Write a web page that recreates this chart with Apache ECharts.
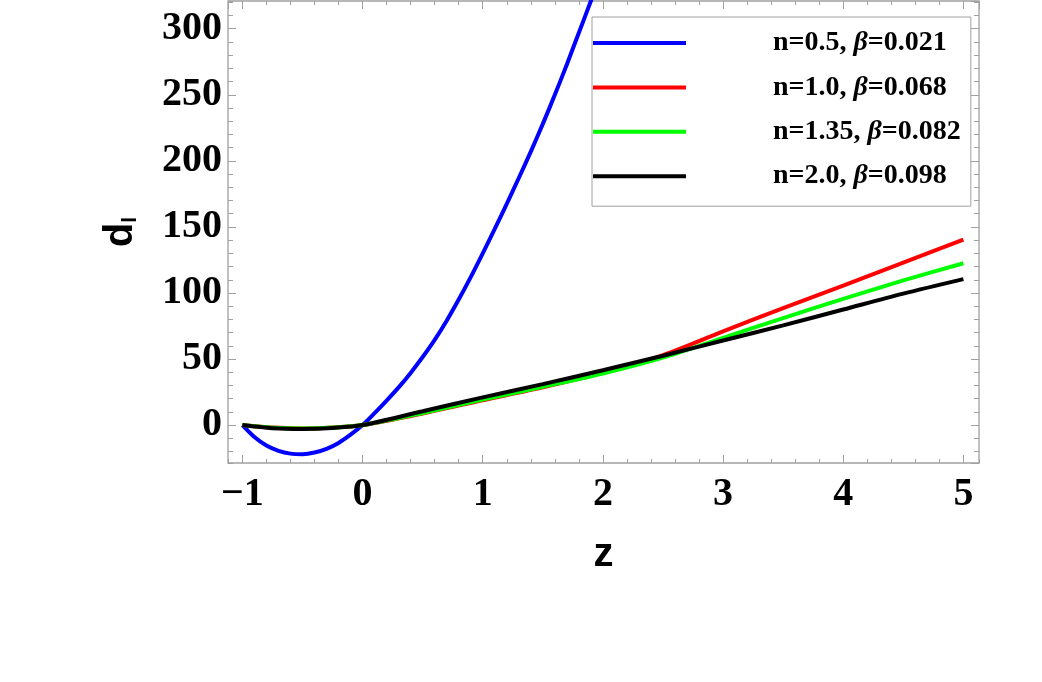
<!DOCTYPE html>
<html>
<head>
<meta charset="utf-8">
<script src="https://cdn.jsdelivr.net/npm/echarts@6/dist/echarts.min.js"></script>
<style>
  html, body { margin: 0; padding: 0; background: #fff; }
  #chart { width: 1042px; height: 682px; }
</style>
</head>
<body>
<div id="chart"></div>
<script>
  // n=0.5 curve (runs past the top of the frame)
  const zBlue = [-1, -0.9, -0.8, -0.7, -0.6, -0.5, -0.4, -0.3, -0.2, -0.1, 0,
    0.1, 0.2, 0.3, 0.4, 0.5, 0.6, 0.7, 0.8, 0.9, 1.0,
    1.1, 1.2, 1.3, 1.4, 1.5, 1.6, 1.7, 1.8, 1.9, 2.0]
  const dBlue = [0, -9, -15.5, -19.5, -21.6, -22, -20.8, -18, -13.5, -7.3, 0,
    9, 18.5, 28.5, 39.5, 51.5, 64.5, 79, 95, 112, 130,
    148.5, 167.5, 187, 207, 228, 250, 273, 297, 321, 346]

  // the other three curves
  const zOther = [-1, -0.75, -0.5, -0.25, 0, 0.5, 1, 1.5, 2, 2.5, 3, 3.5, 4, 4.5, 5]
  const dRed = [0, -1.9, -2.5, -1.8, 0, 8.8, 18.8, 28.6, 39.5, 53, 71, 88.5, 105.5, 123, 140.3]
  const dGreen = [0, -2.0, -2.6, -1.9, 0, 9.2, 19.3, 29, 39, 51, 66, 81, 95.5, 109.5, 122.5]
  const dBlack = [0, -2.4, -3.0, -2.2, 0, 10.5, 21, 31, 41.5, 52.5, 64, 75.5, 87.5, 99.5, 110.5]

  const seriesNames = ['n=0.5, β=0.021', 'n=1.0, β=0.068', 'n=1.35, β=0.082', 'n=2.0, β=0.098']
  const seriesColors = ['#0000ff', '#ff0000', '#00ff00', '#000000']

  const zRange = [-1.12, 5.13]
  const dRange = [-28.7, 321]

  const gray = '#a0a0a0'
  const serif = 'Liberation Serif'
  const sans = 'Liberation Sans'

  function zip(xs, ys) {
    return xs.map((x, i) => [x, ys[i]])
  }

  // axis used only for the frame ticks (major or minor)
  function frameAxis(range, position, splitNumber, tickLength) {
    return {
      type: 'value',
      position: position,
      min: range[0],
      max: range[1],
      splitNumber: splitNumber,
      axisLine: { show: false, onZero: false },
      splitLine: { show: false },
      axisTick: { show: true, inside: true, length: tickLength, lineStyle: { color: gray, width: 1 } },
      axisLabel: { show: false }
    }
  }

  const labelStyle = {
    show: true,
    fontFamily: serif,
    fontWeight: 'bold',
    fontSize: 40,
    color: '#000',
    showMinLabel: false,
    showMaxLabel: false
  }

  let xMain = frameAxis(zRange, 'bottom', 6, 8)
  xMain.axisLabel = Object.assign({}, labelStyle, {
    margin: 12,
    formatter: v => (v < 0 ? '\u2212' + Math.abs(v) : String(v))
  })
  xMain.name = 'z'
  xMain.nameLocation = 'middle'
  xMain.nameGap = 72
  xMain.nameTextStyle = { fontFamily: sans, fontWeight: 'bold', fontSize: 40, color: '#000' }

  let yMain = frameAxis(dRange, 'left', 7, 8)
  yMain.axisLabel = Object.assign({}, labelStyle, { margin: 6 })
  yMain.name = '{d|d}{l|l}'
  yMain.nameLocation = 'middle'
  yMain.nameRotate = 90
  yMain.nameGap = 87
  yMain.nameTextStyle = {
    rich: {
      d: { fontFamily: sans, fontWeight: 'bold', fontSize: 40, lineHeight: 40, color: '#000' },
      l: { fontFamily: sans, fontWeight: 'bold', fontSize: 21, lineHeight: 21, color: '#000', verticalAlign: 'bottom' }
    }
  }

  const series = [dBlue, dRed, dGreen, dBlack].map((d, i) => ({
    name: seriesNames[i],
    type: 'line',
    xAxisIndex: 0,
    yAxisIndex: 0,
    data: i === 0 ? zip(zBlue, d) : zip(zOther, d),
    smooth: 0.3,
    symbol: 'none',
    showSymbol: false,
    clip: true,
    silent: true,
    lineStyle: { color: seriesColors[i], width: 4 },
    itemStyle: { color: seriesColors[i] }
  }))

  const chart = echarts.init(document.getElementById('chart'))
  chart.setOption({
    animation: false,
    backgroundColor: '#fff',
    grid: {
      left: 228,
      right: 63,
      top: 1,
      bottom: 219,
      show: true,
      borderColor: gray,
      borderWidth: 1.3,
      outerBoundsMode: 'none'
    },
    legend: {
      orient: 'vertical',
      left: 592,
      top: 17,
      padding: [11, 10, 15, 1],
      itemWidth: 93,
      itemHeight: 4,
      itemGap: 14.4,
      borderColor: gray,
      borderWidth: 1,
      selectedMode: false,
      data: seriesNames.map(n => ({ name: n, icon: 'rect' })),
      formatter: name => name.replace('β', '{b|β}'),
      textStyle: {
        fontFamily: serif,
        fontWeight: 'bold',
        fontSize: 28,
        lineHeight: 30,
        color: '#000',
        padding: [0, 0, 0, 82],
        rich: {
          b: { fontFamily: serif, fontWeight: 'bold', fontStyle: 'italic', fontSize: 28, lineHeight: 30, color: '#000' }
        }
      }
    },
    xAxis: [
      xMain,
      frameAxis(zRange, 'bottom', 31, 4),
      frameAxis(zRange, 'top', 6, 8),
      frameAxis(zRange, 'top', 31, 4)
    ],
    yAxis: [
      yMain,
      frameAxis(dRange, 'left', 35, 5),
      frameAxis(dRange, 'right', 7, 8),
      frameAxis(dRange, 'right', 35, 5)
    ],
    series: series
  })
</script>
</body>
</html>
